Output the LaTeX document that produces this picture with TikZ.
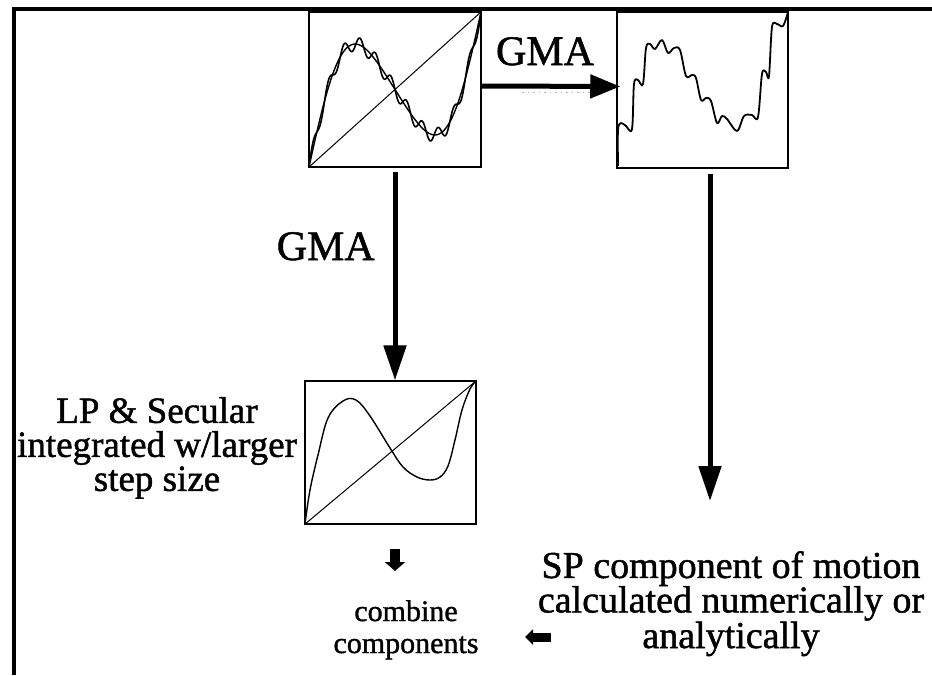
\documentclass[tikz,border=0pt]{standalone}
\usepackage{fontspec}
\setmainfont[FakeBold=1.2]{Liberation Serif}
\usetikzlibrary{arrows.meta}

\begin{document}
\begin{tikzpicture}[x=1pt,y=-1pt,
  plotbox/.style={draw, line width=1.5pt, inner sep=0pt},
  curve/.style={line width=1.4pt, line join=round},
  thinline/.style={line width=1pt},
  bigarrow/.style={line width=5pt, -{Triangle[width=22pt,length=35pt]}},
  harrow/.style={line width=5pt, -{Triangle[width=23pt,length=30pt]}},
  blockarrow/.style={line width=10pt, -{Triangle[width=20pt,length=9pt]}},
  leftblock/.style={line width=9pt, -{Triangle[width=15pt,length=8pt]}},
  biglabel/.style={font=\fontsize{42}{48}\selectfont, inner sep=0pt},
  textblock/.style={align=center, inner sep=0pt}]

\useasboundingbox (0,0) rectangle (932,675);

% frame along the top and left edges
\draw[line width=4pt] (932,9) -- (13.5,9) -- (13.5,675);

% the three plot panels
\node[plotbox, minimum width=172pt, minimum height=155pt] (box1) at (395,89.5) {};
\node[plotbox, minimum width=171pt, minimum height=156pt] (box2) at (702.5,90) {};
\node[plotbox, line width=1.2pt, minimum width=171pt, minimum height=143pt] (box3) at (390.5,452.5) {};

% panel 1: secular trend, long-period curve and full motion with short-period wiggles
\draw[thinline] (box1.south west) -- (box1.north east);
\draw[curve] plot[domain=0:1, samples=160, smooth]
  ({309+172*\x}, {167-155*(\x+0.54*sin(360*\x)+0.05*sin(720*\x))});
\draw[curve, line width=1.6pt] plot[domain=0:1, samples=400, smooth]
  ({309+172*\x}, {167-155*(\x+0.54*sin(360*\x)+0.05*sin(720*\x)+0.045*sin(3960*\x))});

% panel 2: short-period component
\draw[line width=1.8pt, line join=round] plot[smooth, tension=0.55] coordinates {
  (618,166) (618,130) (621,123) (626,126) (632,129) (634,84) (638,80) (643,84)
  (646,48) (650,44) (655,49) (662,40) (668,53) (674,48) (680,50) (686,76)
  (692,75) (696,78) (701,100) (706,98) (711,101) (717,123) (722,116) (727,119)
  (737,131) (744,116) (752,115) (758,117) (762,74) (766,72) (769,76) (772,27)
  (777,24) (783,26) (788,12)};

% panel 3: long-period and secular parts
\draw[thinline] (box3.south west) -- (box3.north east);
\draw[curve] plot[smooth, tension=0.6] coordinates {
  (305,524) (310,490) (318,455) (328,418) (343,401) (356,400) (370,416)
  (390,448) (403,467) (417,477) (430,480) (440,477) (448,466) (455,440)
  (462,410) (470,389) (476,381)};

% averaging arrows
\draw[harrow] ([yshift=3.5pt]box1.east) -- ([yshift=3.5pt,xshift=4pt]box2.west);
\draw[gray!60, line width=1pt, dash pattern=on 1.5pt off 4pt] (522,92) -- (590,92);
\draw[bigarrow] ([yshift=-4pt]box1.south) -- (box1.south |- box3.north);

\coordinate (sptip) at (710,501);
\draw[bigarrow] ([xshift=7.5pt,yshift=-5pt]box2.south) -- (sptip);

% labels
\node[biglabel, anchor=base] (gmaH) at (545,65) {GMA};
\node[biglabel, anchor=base east] (gmaV) at (375,260) {GMA};

\node[textblock, anchor=north, font=\fontsize{37}{34}\selectfont] (lp) at (157,397)
  {LP \& Secular\\integrated w/larger\\step size};
\node[textblock, anchor=north, font=\fontsize{38}{34.5}\selectfont] (sp) at (731,551)
  {SP component of motion\\calculated numerically or\\analytically};
\node[textblock, anchor=north, font=\fontsize{30}{32}\selectfont] (comb) at (406,600)
  {combine\\components};

% small block arrows into the combination step
\coordinate (dnA) at (395,549);
\coordinate (dnB) at (395,571);
\draw[blockarrow] (dnA) -- (dnB);
\coordinate (lfA) at (551,637);
\coordinate (lfB) at (525,637);
\draw[leftblock] (lfA) -- (lfB);

\end{tikzpicture}
\end{document}
